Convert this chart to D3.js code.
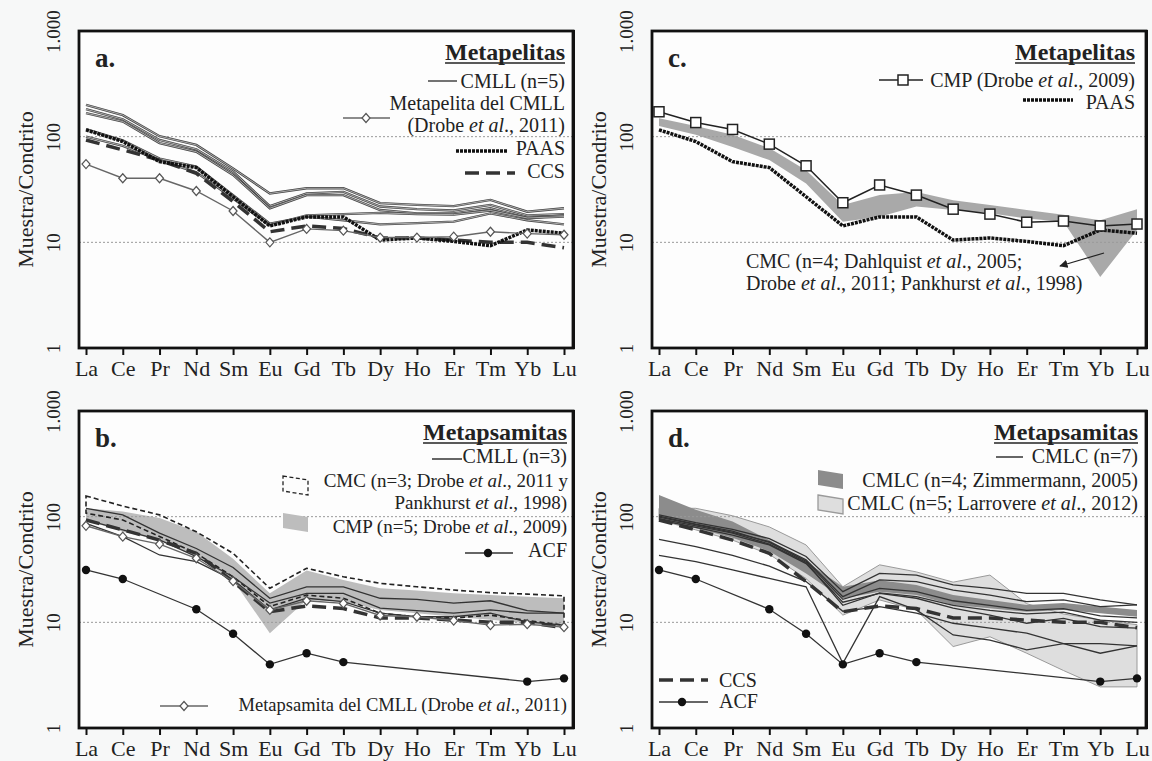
<!DOCTYPE html>
<html>
<head>
<meta charset="utf-8">
<script src="https://cdn.jsdelivr.net/npm/d3@7"></script>
<style>
  body { margin: 0; background: #f7f8f8; }
  svg { font-family: "Liberation Serif", "Times New Roman", serif; }
</style>
</head>
<body>
<div id="chart"></div>
<script>
// 1: DATA (chondrite-normalised values)
const ree = ["La", "Ce", "Pr", "Nd", "Sm", "Eu", "Gd", "Tb", "Dy", "Ho", "Er", "Tm", "Yb", "Lu"];
const yTicks = [1, 10, 100, 1000];
const yTickLabels = ["1", "10", "100", "1.000"];

const paas = [116, 90, 58, 51, 27, 14.3, 17.4, 17.4, 10.5, 11, 10.2, 9.3, 13.1, 12.2];
const ccs = [93, 75, 60, 45, 24.3, 12.6, 14.3, 13.5, 11, 11, 10.5, 10, 10, 8.9];
const acf = [31.3, 25.7, null, 13.3, 7.8, 4.0, 5.1, 4.2, null, null, null, null, 2.75, 2.95];

// panel a
const cmllPelitas = [
  [200, 160, 101, 83.5, 50, 29, 32.5, 32.5, 23.5, 22.6, 22, 25.2, 19.5, 21],
  [182, 146, 93, 76, 46.6, 22, 29, 30, 21.8, 20.6, 20, 22.6, 18, 18.5],
  [167, 139, 87, 72, 43.4, 21, 28, 28, 20.2, 18.8, 18.8, 21, 17, 18],
  [118, 92, 62, 52, 28, 15, 17.5, 16.2, 14.8, 15.2, 15.7, 18.8, 16.2, 14.8],
  [100, 82, 60, 46, 26, 14.5, 18, 18.5, 19, 18.5, 18.3, 20, 17, 17.5]
];
const drobe2011Pelita = [55, 40.4, 40.4, 30.6, 19.8, 10, 13.4, 12.9, 11.1, 11.1, 11.3, 12.6, 12.1, 11.8];

// panel c
const cmpPelita = [172, 136, 117, 85, 53, 23.7, 34.9, 28, 20.6, 18.5, 15.5, 15.9, 14.3, 14.9];
const cmcPelitaHigh = [149, 126, 104, 78, 48, 22.6, 28, 30, 25, 22.6, 20.2, 18.2, 16.2, 20.6];
const cmcPelitaLow = [126, 104, 80, 60, 36, 15.7, 17.5, 21.8, 20.2, 18.8, 16.8, 15.7, 4.7, 13.1];

// panel b
const cmllPsamitas = [
  [120, 104, 70, 50, 33, 16.9, 21.7, 21.7, 16.9, 16.5, 15.2, 16, 12.9, 12.2],
  [93, 74.8, 60.2, 41.8, 27, 15.2, 18.8, 18.8, 13.6, 12.9, 12.2, 13.1, 12.2, 12.2],
  [86.6, 64.7, 43.4, 37.5, 25.2, 13.1, 16.9, 15.7, 12.2, 11.3, 11.3, 12.2, 10.1, 9.4]
];
const drobe2011Psamita = [82, 64.7, 55, 40.4, 24.5, 13.1, 16, 15.1, 11.6, 11.3, 10.4, 9.4, 9.6, 9.0];
const cmcPsamitaHigh = [157, 126, 104, 72, 45, 21, 32.5, 27, 23.4, 21.7, 20.2, 19.1, 18.5, 17.8];
const cmcPsamitaLow = [108, 93, 65, 45, 27, 14.1, 18.1, 16.9, 12.2, 11.3, 11, 11.7, 10.4, 9.4];
const cmpPsamitaHigh = [120, 112, 97, 72, 40, 18.8, 31, 25.2, 21, 20, 18.8, 18.1, 17.5, 16.9];
const cmpPsamitaLow = [93, 72, 60, 42, 25, 7.9, 16.3, 15.7, 13.1, 12.2, 11.3, 10.6, 9.8, 9.1];

// panel d
const cmlcLines = [
  [104, 88, 76, 62, 42, 19.5, 29, 28, 22.6, 21, 18.8, 18.8, 16.3, 14.6],
  [99, 84, 71, 58, 39, 17.5, 25.2, 24.3, 20.2, 18.1, 15.7, 16.3, 14.1, 14.6],
  [93, 79, 67, 54, 36, 15.5, 18.8, 16.9, 13.6, 11.7, 9.8, 10.9, 9.1, 8.8],
  [101, 85, 73, 57, 38, 16.5, 21, 19.5, 16, 14.5, 13, 13.5, 11.5, 11],
  [61, 52, 43, 34, 24.3, 12.7, 14.1, 12.2, 9.8, 8.8, 7.9, 6.3, 5.1, 6.0],
  [43, 37.5, 31.3, 26, 21.7, 4.1, 17.5, 13.1, 7.6, 6.8, 5.5, 6.3, 6.3, 6.0],
  [96, 82, 70, 55, 37, 14.5, 19, 17.5, 14.5, 13, 12, 12.5, 10.5, 10]
];
const zimmermannHigh = [160, 116, 90, 60, 37.5, 21.7, 25, 22.6, 18.1, 16.3, 14.6, 15.2, 14.1, 13.1];
const zimmermannLow = [93, 77.6, 63, 47, 29, 16.8, 19.5, 18.1, 14.6, 13.6, 12.6, 13.1, 12.2, 11.3];
const larrovereHigh = [120, 120, 102, 80, 54, 21.7, 35, 30, 24, 28, 15, 12, 10.5, 9.5];
const larrovereLow = [93, 75, 60, 44, 26, 11.7, 16.3, 13.1, 5.9, 7.3, 5.1, 3.5, 2.45, 2.45];

// 2: GLOBAL LAYOUT
const W = 494, H = 317;
const pos = { a: [79, 31], b: [79, 411], c: [652, 31], d: [652, 411] };

const svg = d3.select("#chart").append("svg")
  .attr("width", 1152)
  .attr("height", 761);

const x = d3.scalePoint().domain(ree).range([7, W - 9]);
const y = d3.scaleLog().domain([1, 1000]).range([H, 0]);

const pts = arr => ree.map((r, i) => ({ r, v: arr[i] })).filter(d => d.v != null);
const band = (lo, hi) => ree.map((r, i) => ({ r, lo: lo[i], hi: hi[i] }));
const line = d3.line().x(d => x(d.r)).y(d => y(d.v));
const area = d3.area().x(d => x(d.r)).y0(d => y(d.lo)).y1(d => y(d.hi));

const diamond = "M0,-4.5L4,0L0,4.5L-4,0Z";

function panel(key, letter) {
  const [px, py] = pos[key];
  const g = svg.append("g").attr("transform", `translate(${px},${py})`);
  g.append("rect").attr("width", W).attr("height", H).attr("fill", "#fdfdfd");
  g.append("text")
    .attr("x", 16).attr("y", 36)
    .attr("font-size", 27).attr("font-weight", "bold").attr("fill", "#222")
    .text(letter);
  return g;
}

function grid(g) {
  g.selectAll(".grid").data([10, 100]).join("line")
    .attr("x1", 0).attr("x2", W)
    .attr("y1", d => y(d)).attr("y2", d => y(d))
    .attr("stroke", "#999").attr("stroke-width", 1).attr("stroke-dasharray", "2,2");
}

function axes(g) {
  const xa = g.append("g").attr("transform", `translate(0,${H})`)
    .call(d3.axisBottom(x).tickSize(7).tickPadding(5));
  xa.select(".domain").remove();
  xa.selectAll("line").attr("stroke", "#111").attr("stroke-width", 2);
  xa.selectAll("text").attr("font-size", 22).attr("font-family", "Liberation Serif").attr("fill", "#222");

  const ya = g.append("g")
    .call(d3.axisLeft(y).tickValues(yTicks).tickSize(0).tickFormat((d, i) => yTickLabels[i]));
  ya.select(".domain").remove();
  ya.selectAll("text")
    .attr("x", 0).attr("y", -19).attr("dy", 0)
    .attr("transform", "rotate(-90)")
    .attr("text-anchor", "middle")
    .attr("font-size", 19).attr("font-family", "Liberation Serif").attr("fill", "#222");

  g.append("text")
    .attr("transform", `translate(-46,${H / 2}) rotate(-90)`)
    .attr("text-anchor", "middle")
    .attr("font-size", 22).attr("fill", "#222")
    .text("Muestra/Condrito");

  g.append("rect").attr("width", W).attr("height", H)
    .attr("fill", "none").attr("stroke", "#111").attr("stroke-width", 2.8);
  g.append("line").attr("x1", W + 1).attr("x2", W + 1).attr("y1", -1).attr("y2", H + 1)
    .attr("stroke", "#111").attr("stroke-width", 2);
}

function thin(g, arr, color = "#333", w = 1.2) {
  g.append("path").datum(pts(arr)).attr("d", line)
    .attr("fill", "none").attr("stroke", color).attr("stroke-width", w);
}
function hollow(g, arr) {
  thin(g, arr, "#444", 2.4);
  thin(g, arr, "#d8d8d8", 0.7);
}
function paasLine(g) {
  g.append("path").datum(pts(paas)).attr("d", line)
    .attr("fill", "none").attr("stroke", "#111").attr("stroke-width", 3.5)
    .attr("stroke-dasharray", "3,1");
}
function ccsLine(g) {
  g.append("path").datum(pts(ccs)).attr("d", line)
    .attr("fill", "none").attr("stroke", "#333").attr("stroke-width", 3.5)
    .attr("stroke-dasharray", "14,7");
}
function acfLine(g) {
  thin(g, acf, "#333", 1.3);
  g.selectAll(".acf").data(pts(acf)).join("circle")
    .attr("cx", d => x(d.r)).attr("cy", d => y(d.v)).attr("r", 4.2).attr("fill", "#111");
}
function diamondLine(g, arr) {
  thin(g, arr, "#666", 1.4);
  g.selectAll(null).data(pts(arr)).join("path")
    .attr("d", diamond).attr("transform", d => `translate(${x(d.r)},${y(d.v)})`)
    .attr("fill", "#fff").attr("stroke", "#555").attr("stroke-width", 1.2);
}

// legend helpers (absolute coordinates)
function label(xp, yp, parts, opts = {}) {
  const t = svg.append("text").attr("x", xp).attr("y", yp)
    .attr("text-anchor", opts.anchor || "end")
    .attr("font-size", opts.size || 20)
    .attr("font-weight", opts.bold ? "bold" : null)
    .attr("fill", "#222");
  (Array.isArray(parts) ? parts : [parts]).forEach(p => {
    const [s, it] = Array.isArray(p) ? p : [p, false];
    t.append("tspan").attr("font-style", it ? "italic" : null).text(s);
  });
  return t;
}
function title(xr, yb, s) {
  const t = label(xr, yb, s, { bold: true, size: 24 });
  const len = t.node().getComputedTextLength();
  svg.append("line").attr("x1", xr - len).attr("x2", xr).attr("y1", yb + 3).attr("y2", yb + 3)
    .attr("stroke", "#222").attr("stroke-width", 1.5);
}
function sample(x1, x2, yy, stroke, w, dash) {
  svg.append("line").attr("x1", x1).attr("x2", x2).attr("y1", yy).attr("y2", yy)
    .attr("stroke", stroke).attr("stroke-width", w).attr("stroke-dasharray", dash || null);
}
function swatch(x0, y0, fill, stroke, dash) {
  const p = `M${x0},${y0}L${x0 + 25},${y0 + 4}L${x0 + 25},${y0 + 19}L${x0},${y0 + 15}Z`;
  svg.append("path").attr("d", p).attr("fill", fill).attr("stroke", stroke || "none")
    .attr("stroke-width", 1.3).attr("stroke-dasharray", dash || null);
}

// 3: PANEL a
const ga = panel("a", "a.");
grid(ga);
cmllPelitas.forEach(s => hollow(ga, s));
ccsLine(ga);
paasLine(ga);
diamondLine(ga, drobe2011Pelita);
axes(ga);

title(565, 60, "Metapelitas");
sample(428, 457, 81, "#444", 1.5);
label(565, 88, "CMLL (n=5)");
sample(343, 390, 118, "#666", 1.5);
svg.append("path").attr("d", diamond).attr("transform", "translate(366,118)")
  .attr("fill", "#fff").attr("stroke", "#555").attr("stroke-width", 1.2);
label(565, 110, "Metapelita del CMLL");
label(565, 132, ["(Drobe ", ["et al", true], "., 2011)"]);
sample(456, 507, 151, "#111", 3.5, "3,1");
label(565, 155, "PAAS");
sample(465, 515, 173, "#333", 3.5, "14,7");
label(565, 178, "CCS");

// 4: PANEL c
const gc = panel("c", "c.");
gc.append("path").datum(band(cmcPelitaLow, cmcPelitaHigh)).attr("d", area).attr("fill", "#a9a9a9");
grid(gc);
paasLine(gc);
thin(gc, cmpPelita, "#222", 1.5);
gc.selectAll(".sq").data(pts(cmpPelita)).join("rect")
  .attr("x", d => x(d.r) - 5).attr("y", d => y(d.v) - 5).attr("width", 10).attr("height", 10)
  .attr("fill", "#fff").attr("stroke", "#222").attr("stroke-width", 1.5);
axes(gc);

title(1135, 60, "Metapelitas");
sample(879, 923, 80, "#222", 1.5);
svg.append("rect").attr("x", 898).attr("y", 75).attr("width", 10).attr("height", 10)
  .attr("fill", "#fff").attr("stroke", "#222").attr("stroke-width", 1.5);
label(1135, 87, ["CMP (Drobe ", ["et al", true], "., 2009)"]);
sample(1023, 1073, 100, "#111", 3.5, "3,1");
label(1135, 109, "PAAS");
label(746, 268, ["CMC (n=4; Dahlquist ", ["et al", true], "., 2005;"], { anchor: "start" });
label(746, 290, ["Drobe ", ["et al", true], "., 2011; Pankhurst ", ["et al", true], "., 1998)"], { anchor: "start" });
svg.append("defs").append("marker")
  .attr("id", "arrow").attr("viewBox", "0 0 10 10").attr("refX", 9).attr("refY", 5)
  .attr("markerWidth", 7).attr("markerHeight", 7).attr("orient", "auto")
  .append("path").attr("d", "M0,0L10,5L0,10Z").attr("fill", "#222");
svg.append("line").attr("x1", 1104).attr("y1", 253).attr("x2", 1060).attr("y2", 266)
  .attr("stroke", "#222").attr("stroke-width", 1.2).attr("marker-end", "url(#arrow)");

// 5: PANEL b
const gb = panel("b", "b.");
gb.append("path").datum(band(cmpPsamitaLow, cmpPsamitaHigh)).attr("d", area).attr("fill", "#bdbdbd");
grid(gb);
gb.append("path").datum(band(cmcPsamitaLow, cmcPsamitaHigh)).attr("d", area)
  .attr("fill", "none").attr("stroke", "#222").attr("stroke-width", 1.6).attr("stroke-dasharray", "5,3");
cmllPsamitas.forEach(s => thin(gb, s, "#333", 1.3));
ccsLine(gb);
diamondLine(gb, drobe2011Psamita);
acfLine(gb);
axes(gb);

title(567, 440, "Metapsamitas");
sample(432, 462, 459, "#333", 1.5);
label(567, 463, "CMLL (n=3)");
swatch(283, 476, "none", "#222", "4,2.5");
label(568, 487, ["CMC (n=3; Drobe ", ["et al", true], "., 2011 y"], { size: 19 });
label(567, 509, ["Pankhurst ", ["et al", true], "., 1998)"], { size: 19 });
swatch(283, 513, "#bdbdbd");
label(567, 533, ["CMP (n=5; Drobe ", ["et al", true], "., 2009)"], { size: 19 });
sample(465, 513, 553, "#333", 1.5);
svg.append("circle").attr("cx", 488).attr("cy", 553).attr("r", 4.2).attr("fill", "#111");
label(567, 557, "ACF");
sample(160, 208, 706, "#666", 1.5);
svg.append("path").attr("d", diamond).attr("transform", "translate(184,706)")
  .attr("fill", "#fff").attr("stroke", "#555").attr("stroke-width", 1.2);
label(567, 711, ["Metapsamita del CMLL (Drobe ", ["et al", true], "., 2011)"], { size: 18.5 });

// 6: PANEL d
const gd = panel("d", "d.");
gd.append("path").datum(band(larrovereLow, larrovereHigh)).attr("d", area)
  .attr("fill", "#dedede").attr("stroke", "#9a9a9a").attr("stroke-width", 1);
gd.append("path").datum(band(zimmermannLow, zimmermannHigh)).attr("d", area).attr("fill", "#8c8c8c");
grid(gd);
cmlcLines.forEach(s => thin(gd, s, "#333", 1.3));
ccsLine(gd);
acfLine(gd);
axes(gd);

title(1138, 440, "Metapsamitas");
sample(996, 1023, 457, "#333", 1.5);
label(1138, 463, "CMLC (n=7)");
swatch(818, 470, "#8c8c8c");
label(1138, 487, "CMLC (n=4; Zimmermann, 2005)");
swatch(818, 495, "#dedede", "#9a9a9a");
label(1138, 510, ["CMLC (n=5; Larrovere ", ["et al", true], "., 2012)"]);
sample(659, 708, 680, "#333", 3.5, "14,7");
label(719, 687, "CCS", { anchor: "start" });
sample(659, 708, 702, "#333", 1.5);
svg.append("circle").attr("cx", 682).attr("cy", 702).attr("r", 4.2).attr("fill", "#111");
label(719, 708, "ACF", { anchor: "start" });
</script>
</body>
</html>
